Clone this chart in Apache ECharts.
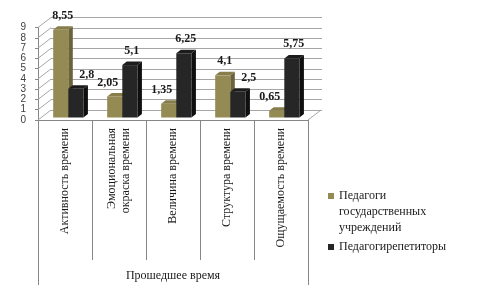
<!DOCTYPE html>
<html>
<head>
<meta charset="utf-8">
<script src="https://cdn.jsdelivr.net/npm/echarts@6/dist/echarts.min.js"></script>
<style>
  html, body { margin: 0; padding: 0; background: #fff; }
  #chart { width: 481px; height: 288px; }
</style>
</head>
<body>
<div id="chart"></div>
<script>
const categories = [
  'Активность времени',
  'Эмоциональная\nокраска времени',
  'Величина времени',
  'Структура времени',
  'Ощущаемость времени'
];
const groupLabel = ['Прошедшее время'];
const stateTeachers = [8.55, 2.05, 1.35, 4.1, 0.65];
const tutors = [2.8, 5.1, 6.25, 2.5, 5.75];
const yTicks = [0, 1, 2, 3, 4, 5, 6, 7, 8, 9];

const SERIF = "'Liberation Serif', 'Times New Roman', serif";
const WALL_DX = 13, WALL_DY = -10;   // depth of the back wall
const FACE_DX = 3.3, FACE_DY = -2.5; // bar front face behind the front plane
const BAR_DX = 4.5, BAR_DY = -3.5;   // bar depth

const colors = [
  { front: '#948a54', side: '#6b6339', top: '#877d4b' },
  { front: '#262626', side: '#0f0f0f', top: '#1c1c1c' }
];

function barRenderer(seriesIdx, own, other) {
  return function (params, api) {
    const idx = api.value(0);
    const v = api.value(1);
    const base = api.coord([idx, 0]);
    const topY = api.coord([idx, v])[1] + FACE_DY;
    const band = api.size([1, 0])[0];
    const w = band * 0.28;
    const cx = base[0] + FACE_DX;
    const x0 = seriesIdx === 0 ? cx - w : cx;
    const yb = base[1] + FACE_DY;
    const c = colors[seriesIdx];
    // label shifted away from a taller neighbour
    let shift = 0;
    if (other[idx] > own[idx]) shift = seriesIdx === 0 ? -9 : 9;
    return {
      type: 'group',
      children: [
        { type: 'polygon', shape: { points: [[x0 + w, topY], [x0 + w + BAR_DX, topY + BAR_DY], [x0 + w + BAR_DX, yb + BAR_DY], [x0 + w, yb]] }, style: { fill: c.side } },
        { type: 'polygon', shape: { points: [[x0, topY], [x0 + BAR_DX, topY + BAR_DY], [x0 + w + BAR_DX, topY + BAR_DY], [x0 + w, topY]] }, style: { fill: c.top } },
        { type: 'rect', shape: { x: x0, y: topY, width: w, height: yb - topY }, style: { fill: c.front } },
        { type: 'text', x: x0 + w / 2 + 2 + shift, y: topY - 14,
          style: { text: String(v).replace('.', ','), font: 'bold 12px ' + SERIF, fill: '#1a1a1a', align: 'center', verticalAlign: 'middle' } }
      ]
    };
  };
}

const chart = echarts.init(document.getElementById('chart'), null, { renderer: 'canvas' });

const option = {
  backgroundColor: '#ffffff',
  animation: false,
  grid: [
    { left: 38, right: 173, top: 27.5, bottom: 168 },
    { left: 51, right: 159, top: 17.5, bottom: 178 }
  ],
  legend: {
    orient: 'vertical',
    left: 328,
    top: 156,
    padding: 0,
    itemGap: 3,
    icon: 'rect',
    itemWidth: 6,
    itemHeight: 6,
    textStyle: { fontFamily: SERIF, fontSize: 12, lineHeight: 16, color: '#1a1a1a' },
    // two empty lines in front keep the first line level with the marker
    formatter: name => name.indexOf(' ') > 0 ? '\n\n' + name.split(' ').join('\n') : name,
    data: ['Педагоги государственных учреждений', 'Педагогирепетиторы']
  },
  xAxis: [
    {
      type: 'category', gridIndex: 0, data: categories,
      axisLine: { lineStyle: { color: '#868686' } },
      axisTick: { show: true, length: 140, interval: 0, lineStyle: { color: '#868686' } },
      axisLabel: { rotate: 90, interval: 0, margin: 8, fontFamily: SERIF, fontSize: 12, lineHeight: 14, color: '#1a1a1a' }
    },
    {
      type: 'category', gridIndex: 0, data: groupLabel, position: 'bottom', offset: 140,
      axisLine: { show: false },
      axisTick: { show: true, length: 25, lineStyle: { color: '#868686' } },
      axisLabel: { margin: 10, fontFamily: SERIF, fontSize: 12, color: '#1a1a1a' }
    },
    { type: 'value', gridIndex: 1, min: 0, max: 1, show: false }
  ],
  yAxis: [
    {
      type: 'value', gridIndex: 0, min: 0, max: 9, interval: 1,
      axisLine: { show: true, lineStyle: { color: '#868686' } },
      axisTick: { show: true, length: 3, lineStyle: { color: '#868686' } },
      axisLabel: { margin: 12, showMinLabel: true, showMaxLabel: true, hideOverlap: false,
        fontFamily: "'Liberation Sans', Arial, sans-serif", fontSize: 10, lineHeight: 10, color: '#404040' },
      splitLine: { show: false }
    },
    {
      type: 'value', gridIndex: 1, min: 0, max: 9, interval: 1,
      axisLine: { show: false }, axisTick: { show: false }, axisLabel: { show: false },
      splitLine: { show: true, lineStyle: { color: '#a6a6a6', width: 1 } }
    }
  ],
  series: [
    {
      // left wall and floor edges
      type: 'custom', xAxisIndex: 0, yAxisIndex: 0, silent: true, z: 1,
      data: yTicks.map(t => [0, t]),
      renderItem: function (params, api) {
        const cs = params.coordSys;
        const y = api.coord([0, api.value(1)])[1];
        const lines = [
          { type: 'line', shape: { x1: cs.x, y1: y, x2: cs.x + WALL_DX, y2: y + WALL_DY }, style: { stroke: '#a6a6a6', lineWidth: 1 } }
        ];
        if (api.value(1) === 0) {
          lines.push({ type: 'line', shape: { x1: cs.x + cs.width, y1: y, x2: cs.x + cs.width + WALL_DX, y2: y + WALL_DY }, style: { stroke: '#a6a6a6', lineWidth: 1 } });
        }
        return { type: 'group', children: lines };
      }
    },
    {
      name: 'Педагоги государственных учреждений',
      type: 'custom', xAxisIndex: 0, yAxisIndex: 0, z: 3,
      itemStyle: { color: colors[0].front },
      data: stateTeachers.map((v, i) => [i, v]),
      renderItem: barRenderer(0, stateTeachers, tutors)
    },
    {
      name: 'Педагогирепетиторы',
      type: 'custom', xAxisIndex: 0, yAxisIndex: 0, z: 4,
      itemStyle: { color: colors[1].front },
      data: tutors.map((v, i) => [i, v]),
      renderItem: barRenderer(1, tutors, stateTeachers)
    }
  ]
};

chart.setOption(option);
</script>
</body>
</html>
